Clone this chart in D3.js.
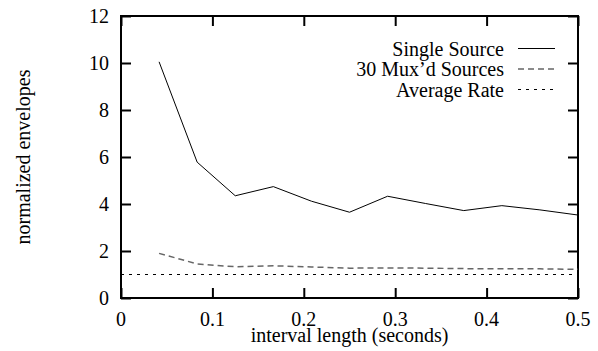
<!DOCTYPE html>
<html>
<head>
<meta charset="utf-8">
<script src="https://cdn.jsdelivr.net/npm/d3@7"></script>
<style>
  body { margin: 0; background: #fff; }
  text { font-family: "Liberation Serif", "Times New Roman", serif; font-size: 20px; fill: #000; }
</style>
</head>
<body>
<script>
// interval lengths (seconds)
var intervals = [1/24, 2/24, 3/24, 4/24, 5/24, 6/24, 7/24, 8/24, 9/24, 10/24, 11/24, 12/24];
var singleSource = [10.05, 5.78, 4.35, 4.74, 4.12, 3.65, 4.33, 4.02, 3.72, 3.93, 3.75, 3.53];
var muxSources = [1.9, 1.45, 1.33, 1.37, 1.32, 1.27, 1.28, 1.27, 1.25, 1.25, 1.24, 1.22];
var avgRateX = [0, 0.5];
var avgRate = [1.0, 1.0];
var xTicks = [0, 0.1, 0.2, 0.3, 0.4, 0.5];
var yTicks = [0, 2, 4, 6, 8, 10, 12];
var legendNames = ["Single Source", "30 Mux\u2019d Sources", "Average Rate"];

var W = 598, H = 351;
var mL = 121, mR = 578, mT = 16, mB = 298;

var svg = d3.select("body").append("svg")
    .attr("width", W)
    .attr("height", H);

var x = d3.scaleLinear().domain([0, 0.5]).range([mL, mR]);
var y = d3.scaleLinear().domain([0, 12]).range([mB, mT]);

// axes: ticks point inwards on all four sides (gnuplot look)
var tickLen = 10;
svg.append("g").attr("transform", "translate(0," + mB + ")")
    .call(d3.axisTop(x).tickValues(xTicks).tickSize(tickLen).tickFormat(""));
svg.append("g").attr("transform", "translate(0," + mT + ")")
    .call(d3.axisBottom(x).tickValues(xTicks).tickSize(tickLen).tickFormat(""));
svg.append("g").attr("transform", "translate(" + mL + ",0)")
    .call(d3.axisRight(y).tickValues(yTicks).tickSize(tickLen).tickFormat(""));
svg.append("g").attr("transform", "translate(" + mR + ",0)")
    .call(d3.axisLeft(y).tickValues(yTicks).tickSize(tickLen).tickFormat(""));
svg.selectAll(".domain").remove();
svg.selectAll(".tick line").attr("stroke", "#000").attr("stroke-width", 2);

svg.append("rect")
    .attr("x", mL).attr("y", mT)
    .attr("width", mR - mL).attr("height", mB - mT)
    .attr("fill", "none").attr("stroke", "#000").attr("stroke-width", 2);

// tick labels
svg.selectAll("text.xl").data(xTicks).enter().append("text")
    .attr("class", "xl")
    .attr("x", function(d) { return x(d); })
    .attr("y", 326)
    .attr("text-anchor", "middle")
    .text(function(d) { return d3.format("")(d); });

svg.selectAll("text.yl").data(yTicks).enter().append("text")
    .attr("class", "yl")
    .attr("x", 109)
    .attr("y", function(d) { return y(d) + 7; })
    .attr("text-anchor", "end")
    .text(function(d) { return d; });

svg.append("text")
    .attr("x", (mL + mR) / 2).attr("y", 342)
    .attr("text-anchor", "middle")
    .text("interval length (seconds)");

svg.append("text")
    .attr("transform", "translate(30," + ((mT + mB) / 2) + ") rotate(-90)")
    .attr("text-anchor", "middle")
    .text("normalized envelopes");

// lines
var line = d3.line()
    .x(function(d) { return x(d[0]); })
    .y(function(d) { return y(d[1]); });

var series = [
  { pts: d3.zip(intervals, singleSource), color: "#000", dash: null, w: 1 },
  { pts: d3.zip(intervals, muxSources), color: "#666", dash: "6,4", w: 1.5 },
  { pts: d3.zip(avgRateX, avgRate), color: "#000", dash: "3,5", w: 1 }
];

series.forEach(function(s, i) {
  svg.append("path")
      .attr("d", line(s.pts))
      .attr("fill", "none")
      .attr("stroke", s.color)
      .attr("stroke-width", s.w)
      .attr("stroke-dasharray", s.dash);

  var ly = 48.5 + i * 20.5;
  svg.append("text")
      .attr("x", 504).attr("y", ly + 7)
      .attr("text-anchor", "end")
      .text(legendNames[i]);
  svg.append("line")
      .attr("x1", 518).attr("x2", 555)
      .attr("y1", ly).attr("y2", ly)
      .attr("stroke", s.color)
      .attr("stroke-width", s.w)
      .attr("stroke-dasharray", s.dash);
});
</script>
</body>
</html>
